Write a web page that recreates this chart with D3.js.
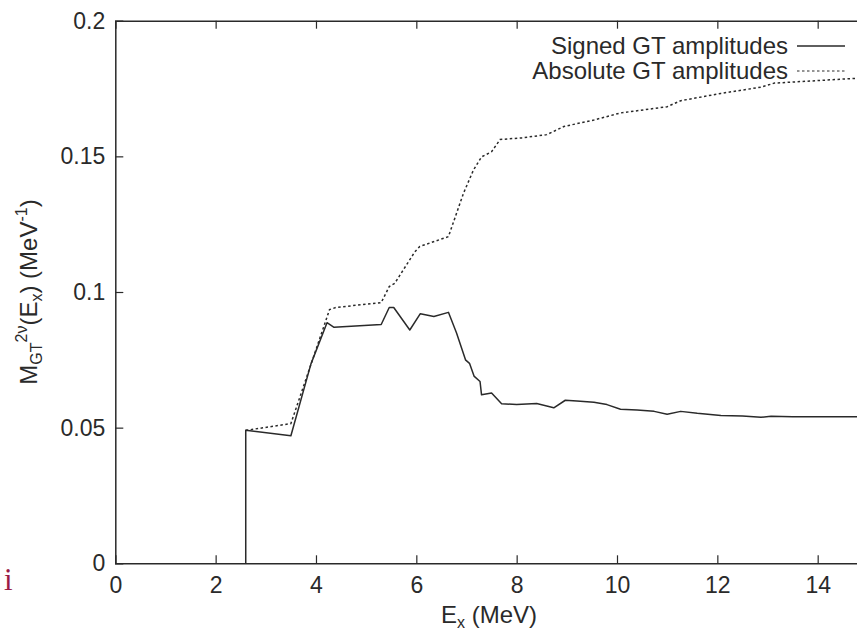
<!DOCTYPE html>
<html>
<head>
<meta charset="utf-8">
<script src="https://cdnjs.cloudflare.com/ajax/libs/d3/7.8.5/d3.min.js"></script>
<style>
  body { margin: 0; background: #fff; }
  svg { display: block; font-family: "Liberation Sans", Arial, Helvetica, sans-serif; }
</style>
</head>
<body>
<div id="chart"></div>
<script>
// signed GT amplitudes (running sum)
const signedE = [2.6, 2.6, 3.5, 3.9, 4.22, 4.36, 5.3, 5.46, 5.55, 5.87, 6.08, 6.35, 6.64, 6.8, 6.98,
  7.06, 7.15, 7.27, 7.3, 7.5, 7.7, 8.0, 8.4, 8.74, 8.97, 9.2, 9.54, 9.8, 10.07, 10.4, 10.74, 11.0,
  11.27, 11.6, 12.07, 12.5, 12.87, 13.07, 13.5, 14.0, 14.8, 15];
const signedM = [0, 0.049, 0.047, 0.0735, 0.0887, 0.087, 0.088, 0.0943, 0.0943, 0.086, 0.092, 0.091,
  0.0925, 0.085, 0.075, 0.0737, 0.069, 0.067, 0.0621, 0.0628, 0.0588, 0.0585, 0.0589, 0.0573, 0.0601,
  0.0598, 0.0594, 0.0585, 0.0568, 0.0565, 0.056, 0.0549, 0.056, 0.0553, 0.0545, 0.0543, 0.0538,
  0.0542, 0.054, 0.054, 0.054, 0.054];

// absolute GT amplitudes
const absE = [2.6, 3.5, 4.27, 4.4, 5.3, 5.46, 5.57, 5.97, 6.07, 6.64, 6.94, 7.14, 7.3, 7.5, 7.67,
  8.1, 8.6, 8.94, 9.54, 10.07, 11.0, 11.27, 12.07, 12.87, 13.14, 14.07, 14.8, 15];
const absM = [0.049, 0.0515, 0.0935, 0.0943, 0.0961, 0.102, 0.1032, 0.1148, 0.1168, 0.1204, 0.1364,
  0.145, 0.1498, 0.1517, 0.1562, 0.1568, 0.158, 0.161, 0.1634, 0.166, 0.1683, 0.1705, 0.1732,
  0.1755, 0.177, 0.178, 0.1788, 0.179];

const xTicks = [0, 2, 4, 6, 8, 10, 12, 14];
const yTicks = [0, 0.05, 0.1, 0.15, 0.2];
const legendLabels = ["Signed GT amplitudes", "Absolute GT amplitudes"];

const width = 857, height = 631;
const margin = { left: 115.3, top: 20.7, bottom: 631 - 563.3 };
const ink = "#2a2a2a";

const svg = d3.select("#chart").append("svg")
  .attr("width", width).attr("height", height);

const x = d3.scaleLinear().domain([0, 15]).range([margin.left, margin.left + 15 * 50.17]);
const y = d3.scaleLinear().domain([0, 0.2]).range([height - margin.bottom, margin.top]);

const xAxis = svg.append("g")
  .attr("transform", `translate(0,${y(0)})`)
  .call(d3.axisBottom(x).tickValues(xTicks).tickSize(-8).tickPadding(13).tickFormat(d3.format("d")));
const xTop = svg.append("g")
  .attr("transform", `translate(0,${y(0.2)})`)
  .call(d3.axisTop(x).tickValues(xTicks.slice(1)).tickSize(-8).tickFormat(""));
const yAxis = svg.append("g")
  .attr("transform", `translate(${x(0)},0)`)
  .call(d3.axisLeft(y).tickValues(yTicks).tickSize(-8).tickPadding(10).tickFormat(d => d === 0 ? "0" : String(d)));

[xAxis, xTop, yAxis].forEach(g => {
  g.select(".domain").attr("stroke", ink).attr("stroke-width", 1.5);
  g.selectAll(".tick line").attr("stroke", ink).attr("stroke-width", 1.2);
  g.selectAll(".tick text").attr("fill", ink).attr("font-size", 23).attr("font-family", null);
});
// no tick marks on the corners
yAxis.selectAll(".tick").filter(d => d === 0 || d === 0.2).select("line").remove();
xAxis.selectAll(".tick").filter(d => d === 0).select("line").remove();

const line = d3.line().x(d => x(d[0])).y(d => y(d[1]));

const plot = svg.append("g");
plot.append("path")
  .datum(signedE.map((e, i) => [e, signedM[i]]))
  .attr("d", line).attr("fill", "none")
  .attr("stroke", ink).attr("stroke-width", 1.5).attr("stroke-linejoin", "round");
plot.append("path")
  .datum(absE.map((e, i) => [e, absM[i]]))
  .attr("d", line).attr("fill", "none")
  .attr("stroke", ink).attr("stroke-width", 1.5).attr("stroke-dasharray", "2.5,2.5");

// legend
const legend = svg.append("g");
legendLabels.forEach((lab, i) => {
  const ly = 46 + i * 25;
  legend.append("text")
    .attr("x", 788).attr("y", ly).attr("dy", "0.35em")
    .attr("text-anchor", "end").attr("font-size", 24).attr("fill", ink)
    .text(lab);
  legend.append("line")
    .attr("x1", 797).attr("x2", 845).attr("y1", ly).attr("y2", ly)
    .attr("stroke", ink).attr("stroke-width", i ? 1.2 : 1.5)
    .attr("stroke-dasharray", i ? "2.5,2.5" : null);
});

// axis titles
const xt = svg.append("text")
  .attr("x", 489).attr("y", 623).attr("text-anchor", "middle")
  .attr("font-size", 24).attr("fill", ink);
xt.append("tspan").text("E");
xt.append("tspan").attr("font-size", 16).attr("dy", 5).text("x");
xt.append("tspan").attr("dy", -5).text(" (MeV)");

const yt = svg.append("text")
  .attr("transform", "translate(37,292) rotate(-90)")
  .attr("text-anchor", "middle").attr("font-size", 24).attr("fill", ink);
yt.append("tspan").text("M");
yt.append("tspan").attr("font-size", 16).attr("dy", 5).text("GT");
yt.append("tspan").attr("font-size", 16).attr("dy", -15).text("2ν");
yt.append("tspan").attr("dy", 10).text("(E");
yt.append("tspan").attr("font-size", 16).attr("dy", 5).text("x");
yt.append("tspan").attr("dy", -5).text(") (MeV");
yt.append("tspan").attr("font-size", 16).attr("dy", -10).text("-1");
yt.append("tspan").attr("dy", 10).text(")");

// stray glyph at the page edge
svg.append("text")
  .attr("x", 4).attr("y", 590).attr("font-family", "Liberation Serif, serif")
  .attr("font-size", 31).attr("fill", "#9b1b45").text("i");
</script>
</body>
</html>
